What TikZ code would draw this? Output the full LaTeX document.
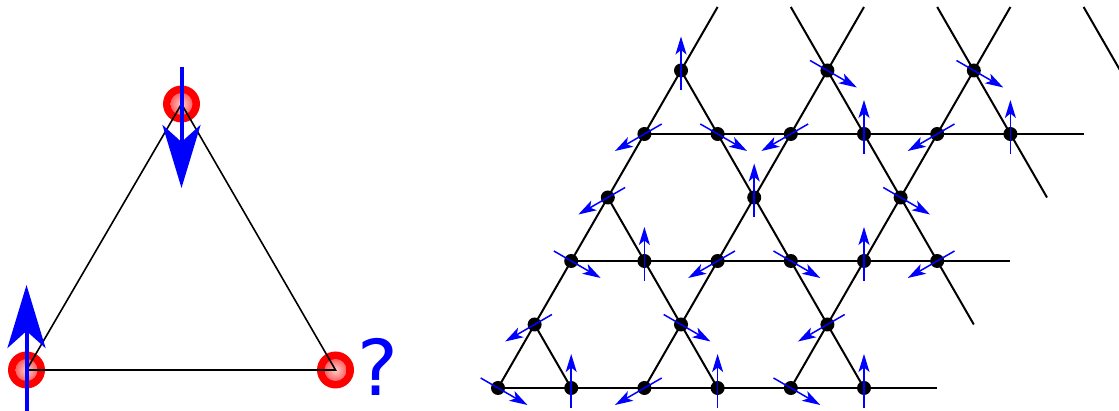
\documentclass[tikz,border=0pt]{standalone}
\usepackage{fontspec}
\newfontfamily\qfont{DejaVu Sans}
\usetikzlibrary{arrows.meta,calc}
\tikzset{
  redsite/.style={circle, minimum size=37pt, inner sep=0pt, fill=red,
    path picture={\shade[inner color=red!20, outer color=red!90] (path picture bounding box.center) circle (11pt);}},
  triline/.style={black, line width=1.6pt},
  bigspin/.style={blue, line width=4pt, -{Stealth[length=63pt, width=38pt, inset=17pt]}},
  latline/.style={black, line width=2pt},
  dot/.style={circle, fill=black, minimum size=14pt, inner sep=0pt},
  spin/.style={blue, line width=1.5pt, -{Stealth[length=18pt, width=11pt, inset=4.5pt]}}
}
\begin{document}
\begin{tikzpicture}[x=1pt,y=1pt]
\useasboundingbox (0,0) rectangle (1119,411);
% ---------- left triangle ----------
\node[redsite] (BL) at (26.5,41) {};
\node[redsite] (BR) at (335.5,41) {};
\node[redsite] (T) at (181.5,307) {};
\draw[triline] (BL.center) -- (BR.center) -- (T.center) -- cycle;
\draw[bigspin] ($(T)+(0,37)$) -- ($(T)+(0,-84)$);
\draw[bigspin] ($(BL)+(0,-45)$) -- ($(BL)+(0,85)$);
\node[text=blue, inner sep=0pt, font=\qfont\fontsize{77}{77}\selectfont] (q) at (377.5,44) {?};
% ---------- kagome lattice ----------
\foreach \r in {0,2,4} \foreach \k in {0,...,5}
  \coordinate (s\r-\k) at ({498+\r*36.6+\k*73.2},{23+\r*63.5});
\foreach \r in {1,3,5} \foreach \k in {0,2,4}
  \coordinate (s\r-\k) at ({498+\r*36.6+\k*73.2},{23+\r*63.5});
% free ends
\coordinate (h0) at ($(s0-5)+(73.2,0)$);
\coordinate (h2) at ($(s2-5)+(73.2,0)$);
\coordinate (h4) at ($(s4-5)+(73.2,0)$);
\coordinate (p0) at ($(s0-0)+(219.6,381)$);
\coordinate (p2) at ($(s0-2)+(219.6,381)$);
\coordinate (p4) at ($(s0-4)+(219.6,381)$);
\coordinate (qa) at ($(s5-2)+(-36.6,63.5)$);
\coordinate (qab) at ($(s2-5)+(36.6,-63.5)$);
\coordinate (qb) at ($(s5-4)+(-36.6,63.5)$);
\coordinate (qbb) at ($(s4-5)+(36.6,-63.5)$);
\coordinate (qc) at ($(s4-5)+(73.2,127)$);
\coordinate (qcb) at ($(s4-5)+(109.8,63.5)$);
% horizontal lines
\draw[latline] (s0-0) -- (h0);
\draw[latline] (s2-0) -- (h2);
\draw[latline] (s4-0) -- (h4);
% up-right lines
\draw[latline] (s0-0) -- (p0);
\draw[latline] (s0-2) -- (p2);
\draw[latline] (s0-4) -- (p4);
% down-right lines
\draw[latline] (s1-0) -- (s0-1);
\draw[latline] (s3-0) -- (s0-3);
\draw[latline] (s5-0) -- (s0-5);
\draw[latline] (qa) -- (qab);
\draw[latline] (qb) -- (qbb);
\draw[latline] (qc) -- (qcb);
% dots
\foreach \r in {0,2,4} \foreach \k in {0,...,5}
  \node[dot] (d\r-\k) at (s\r-\k) {};
\foreach \r in {1,3,5} \foreach \k in {0,2,4}
  \node[dot] (d\r-\k) at (s\r-\k) {};
% spins
\foreach \s/\a in {s5-0/90, s5-2/330, s5-4/330,
  s4-0/210, s4-1/330, s4-2/210, s4-3/90, s4-4/210, s4-5/90,
  s3-0/210, s3-2/90, s3-4/330,
  s2-0/330, s2-1/90, s2-2/210, s2-3/330, s2-4/90, s2-5/210,
  s1-0/210, s1-2/330, s1-4/210,
  s0-0/330, s0-1/90, s0-2/210, s0-3/90, s0-4/330, s0-5/90}
  \draw[spin] ($(\s)+(\a:-20pt)$) -- ($(\s)+(\a:34pt)$);
\end{tikzpicture}
\end{document}
